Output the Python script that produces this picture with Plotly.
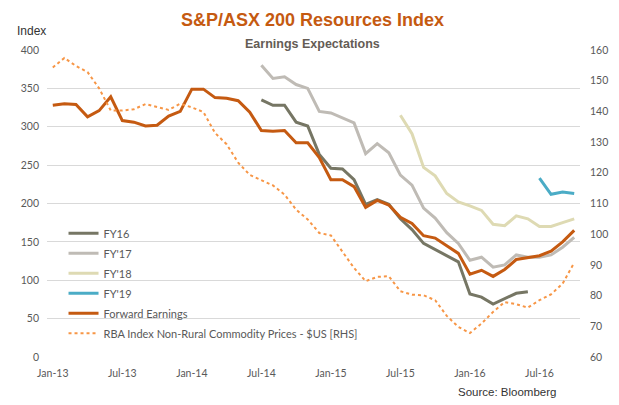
import pandas as pd
import plotly.graph_objects as go

# monthly categories Jan-13 .. Oct-16
months = list(pd.date_range("2013-01-01", periods=46, freq="MS").strftime("%b-%y"))
tick_labels = months[::6]

forward_earnings = [328, 330, 329, 313, 321, 339, 308, 306, 301, 302, 314, 320,
                    349, 349, 338, 337, 334, 319, 295, 294, 295, 279, 279, 260,
                    231, 231, 222, 195, 204, 198, 182, 174, 158, 155, 145, 135,
                    108, 113, 105, 114, 127, 130, 132, 138, 150, 165]

# FY16 runs Jul-14 .. Jun-16
fy16 = [335, 328, 328, 306, 301, 264, 246, 245, 231, 199, 205, 199,
        180, 166, 148, 140, 131, 124, 82, 78, 69, 76, 83, 85]

# FY'17 runs Jul-14 .. Oct-16
fy17 = [380, 363, 365, 355, 350, 320, 318, 312, 305, 265, 278, 266,
        237, 224, 194, 181, 162, 148, 126, 130, 117, 120, 133, 130,
        130, 133, 143, 156]

# FY'18 runs Jul-15 .. Oct-16
fy18 = [315, 291, 247, 236, 213, 202, 197, 191, 173, 171, 184, 180,
        170, 170, 175, 180]

# FY'19 runs Jul-16 .. Oct-16
fy19 = [233, 212, 215, 213]

# RBA non-rural commodity price index, $US (right axis)
rba = [154.3, 157.4, 154.8, 152.8, 147.5, 140.3, 140.3, 140.7, 142.4, 141.4, 140.5, 142.5,
       141.3, 139.8, 133.0, 129.3, 123.3, 119.3, 117.5, 115.9, 112.9, 108.0, 104.8, 100.4,
       99.6, 94.5, 89.0, 84.7, 86.1, 86.3, 81.4, 80.3, 80.1, 78.5, 73.4, 69.8,
       67.8, 70.9, 74.7, 77.9, 77.2, 76.1, 78.5, 80.4, 83.9, 90.7]

tick_font = dict(family="Lato, sans-serif", size=10.5, color="#595959")
narrow = "Liberation Sans Narrow, Liberation Sans, sans-serif"

fig = go.Figure()

series = [
    ("FY16", months[18:42], fy16, "#767664"),
    ("FY'17", months[18:46], fy17, "#BFBBB5"),
    ("FY'18", months[30:46], fy18, "#DEDAB3"),
    ("FY'19", months[42:46], fy19, "#4BACC6"),
    ("Forward Earnings", months, forward_earnings, "#C55A11"),
]
for name, x, y, col in series:
    fig.add_trace(go.Scatter(x=x, y=y, name=name, mode="lines", legendgroup=name,
                             line=dict(color=col, width=3)))

fig.add_trace(go.Scatter(x=months, y=rba, name="RBA Index Non-Rural Commodity Prices - $US [RHS]",
                         mode="lines", yaxis="y2", legendgroup="rba",
                         line=dict(color="#F79646", width=2, dash="dot")))

# page has an 8px body margin, so the figure is 8px smaller than the window
fig.update_layout(
    width=611, height=397,
    margin=dict(l=39, r=39, t=42, b=48),
    paper_bgcolor="white", plot_bgcolor="white",
    font=tick_font,
    xaxis=dict(type="category", categoryorder="array", categoryarray=months,
               range=[-0.5, 45.5], tickmode="array", tickvals=tick_labels,
               showgrid=False, showline=False, zeroline=False, ticks="",
               ticklabelstandoff=8, tickfont=tick_font),
    yaxis=dict(range=[0, 400], dtick=50, showgrid=True, gridcolor="#D9D9D9",
               zeroline=False, showline=False, ticks="", ticklabelstandoff=7,
               tickfont=tick_font),
    yaxis2=dict(range=[60, 160], dtick=10, overlaying="y", side="right",
                showgrid=False, zeroline=False, showline=False, ticks="",
                ticklabelstandoff=9, tickfont=tick_font),
    legend=dict(x=0.031, y=0.45, xanchor="left", yanchor="top",
                bgcolor="rgba(0,0,0,0)", tracegroupgap=1,
                font=dict(family="Lato, sans-serif", size=11, color="#595959")),
    showlegend=True,
)

fig.add_annotation(text="<b>S&P/ASX 200 Resources Index</b>", xref="paper", yref="paper",
                   x=0.499, y=1.098, xanchor="center", yanchor="middle", showarrow=False,
                   font=dict(family=narrow, size=18, color="#C55A11"))
fig.add_annotation(text="<b>Earnings Expectations</b>", xref="paper", yref="paper",
                   x=0.499, y=1.02, xanchor="center", yanchor="middle", showarrow=False,
                   font=dict(family=narrow, size=12.5, color="#645C55"))
fig.add_annotation(text="Index", xref="paper", yref="paper", x=-0.03, y=1.062,
                   xanchor="center", yanchor="middle", showarrow=False,
                   font=dict(family=narrow, size=12, color="#333333"))
fig.add_annotation(text="Source: Bloomberg", xref="paper", yref="paper", x=0.863, y=-0.114,
                   xanchor="center", yanchor="middle", showarrow=False,
                   font=dict(family=narrow, size=11.5, color="#333333"))

fig.write_html("out.html")
